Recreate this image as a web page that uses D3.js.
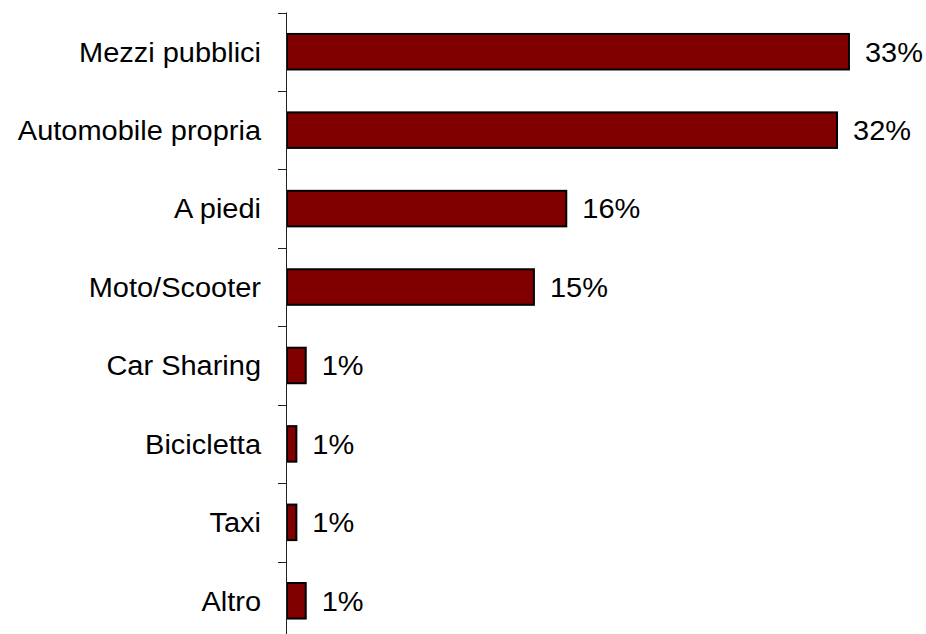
<!DOCTYPE html>
<html>
<head>
<meta charset="utf-8">
<script src="https://cdn.jsdelivr.net/npm/d3@7"></script>
<style>
  html, body { margin: 0; padding: 0; background: #ffffff; }
  svg { display: block; }
  text { font-family: Arial, "Liberation Sans", sans-serif; fill: #000; }
</style>
</head>
<body>
<div id="chart"></div>
<script>
// Mezzi di trasporto utilizzati (quota %)
const categories = ["Mezzi pubblici", "Automobile propria", "A piedi", "Moto/Scooter",
                    "Car Sharing", "Bicicletta", "Taxi", "Altro"];
const shares = [33.0, 32.3, 16.4, 14.5, 1.1, 0.55, 0.55, 1.1];

const width = 926, height = 634;
const axisX = 287, plotTop = 12.5, plotBottom = 640;
const fontSize = 28, stretch = 1.035;   // labels are set slightly wide

const svg = d3.select("#chart").append("svg")
  .attr("width", width).attr("height", height);

const x = d3.scaleLinear().domain([0, 35]).range([axisX, axisX + 596]);
const y = d3.scaleBand().domain(categories).range([plotTop, plotBottom])
  .paddingInner(0.547).paddingOuter(0.2735);

// bars
svg.append("g").selectAll("rect")
  .data(categories)
  .join("rect")
  .attr("x", x(0))
  .attr("y", d => y(d))
  .attr("width", (d, i) => x(shares[i]) - x(0))
  .attr("height", y.bandwidth())
  .attr("fill", "#800000")
  .attr("stroke", "#000")
  .attr("stroke-width", 2);

// vertical axis line with ticks on category boundaries
const axis = svg.append("g").attr("stroke", "#222").attr("stroke-width", 1);
axis.append("line")
  .attr("x1", axisX - 0.5).attr("x2", axisX - 0.5)
  .attr("y1", plotTop).attr("y2", plotBottom);
const boundaries = d3.range(categories.length + 1).map(i => plotTop + i * y.step());
axis.selectAll("line.tick")
  .data(boundaries)
  .join("line")
  .attr("class", "tick")
  .attr("x1", axisX - 9).attr("x2", axisX)
  .attr("y1", d => Math.round(d) + 0.5).attr("y2", d => Math.round(d) + 0.5);

// category labels
svg.append("g").selectAll("text")
  .data(categories)
  .join("text")
  .attr("transform", d => `translate(${axisX - 26},${y(d) + y.bandwidth() / 2}) scale(${stretch},1)`)
  .attr("dy", "0.35em")
  .attr("text-anchor", "end")
  .style("font-size", fontSize + "px")
  .text(d => d);

// value labels
svg.append("g").selectAll("text")
  .data(categories)
  .join("text")
  .attr("transform", (d, i) => `translate(${x(shares[i]) + 16},${y(d) + y.bandwidth() / 2}) scale(${stretch},1)`)
  .attr("dy", "0.35em")
  .style("font-size", fontSize + "px")
  .text((d, i) => Math.round(shares[i]) + "%");
</script>
</body>
</html>
